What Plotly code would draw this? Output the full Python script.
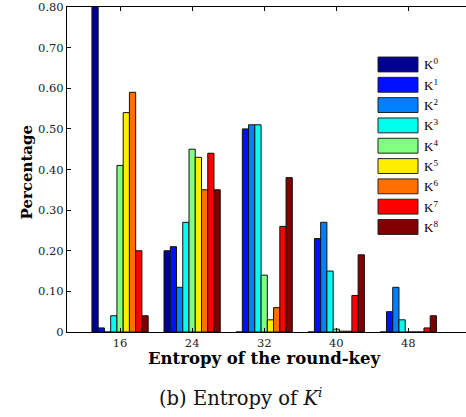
import plotly.graph_objects as go

# ---- data ----
entropy = [16, 24, 32, 40, 48]
tick_text_x = ["16", "24", "32", "40", "48"]
y_tick_vals = [0, 0.1, 0.2, 0.3, 0.4, 0.5, 0.6, 0.7, 0.8]
y_tick_text = ["0", "0.10", "0.20", "0.30", "0.40", "0.50", "0.60", "0.70", "0.80"]

series_names = ["K<sup>0</sup>", "K<sup>1</sup>", "K<sup>2</sup>", "K<sup>3</sup>",
                "K<sup>4</sup>", "K<sup>5</sup>", "K<sup>6</sup>", "K<sup>7</sup>", "K<sup>8</sup>"]
k0 = [0.81, 0.20, 0.0, 0.0, 0.0]
k1 = [0.01, 0.21, 0.50, 0.23, 0.05]
k2 = [0.0, 0.11, 0.51, 0.27, 0.11]
k3 = [0.04, 0.27, 0.51, 0.15, 0.03]
k4 = [0.41, 0.45, 0.14, 0.007, 0.0]
k5 = [0.54, 0.43, 0.03, 0.002, 0.0]
k6 = [0.59, 0.35, 0.06, 0.002, 0.0]
k7 = [0.20, 0.44, 0.26, 0.09, 0.01]
k8 = [0.04, 0.35, 0.38, 0.19, 0.04]
series_values = [k0, k1, k2, k3, k4, k5, k6, k7, k8]
colors = ["#000090", "#0010FF", "#0080FF", "#00FFEE", "#80FF80",
          "#FFEE00", "#FF7000", "#FF0000", "#800000"]

# ---- layout helpers (pixel -> paper) ----
W, H = 466, 417
PL, PR, PT, PB = 67, 466, 4, 332


def px(x):
    return (x - PL) / (PR - PL)


def py(y):
    return (PB - y) / (PB - PT)


fig = go.Figure()
for name, vals, col in zip(series_names, series_values, colors):
    fig.add_trace(go.Bar(x=entropy, y=vals, name=name,
                         marker=dict(color=col, line=dict(color="#111111", width=1)),
                         showlegend=False))

serif = "Liberation Serif"
wide_serif = "DejaVu Serif"

shapes = []
annotations = []
# manual legend
sw_x0, sw_x1 = 378, 418
for i, (name, col) in enumerate(zip(series_names, colors)):
    cy = 62 + i * 20.5
    shapes.append(dict(type="rect", xref="paper", yref="paper",
                       x0=px(sw_x0), x1=px(sw_x1), y0=py(cy + 7.5), y1=py(cy - 7.5),
                       fillcolor=col, line=dict(color="#222222", width=1)))
    annotations.append(dict(xref="paper", yref="paper", x=px(422), y=py(cy),
                            xanchor="left", yanchor="middle", text=name, showarrow=False,
                            font=dict(family=serif, size=13, color="black")))

annotations.append(dict(xref="paper", yref="paper", x=px(27), y=py(171),
                        text="<b>Percentage</b>", textangle=-90, showarrow=False,
                        xanchor="center", yanchor="middle",
                        font=dict(family=wide_serif, size=15, color="black")))
annotations.append(dict(xref="paper", yref="paper", x=px(264), y=py(359),
                        text="<b>Entropy of the round-key</b>", showarrow=False,
                        xanchor="center", yanchor="middle",
                        font=dict(family=wide_serif, size=16.5, color="black")))
annotations.append(dict(xref="paper", yref="paper", x=px(240), y=py(398),
                        text="(b) Entropy of <i>K</i><sup><i>i</i></sup>", showarrow=False,
                        xanchor="center", yanchor="middle",
                        font=dict(family=wide_serif, size=19.5, color="#111111")))

fig.update_layout(
    width=W, height=H,
    margin=dict(l=PL, r=W - PR, t=PT, b=H - PB, pad=0),
    paper_bgcolor="white", plot_bgcolor="white",
    barmode="group", bargap=0.22, bargroupgap=0,
    shapes=shapes, annotations=annotations,
    showlegend=False,
    xaxis=dict(range=[10.11, 54.4], tickvals=entropy, ticktext=tick_text_x,
               ticks="inside", ticklen=4, tickcolor="black",
               showline=True, linecolor="black", linewidth=1, mirror="ticks",
               showgrid=False, zeroline=False, ticklabeloverflow="allow",
               tickfont=dict(family=wide_serif, size=11.5, color="#222222")),
    yaxis=dict(range=[0, 0.8], tickvals=y_tick_vals, ticktext=y_tick_text,
               ticks="inside", ticklen=4, tickcolor="black",
               showline=True, linecolor="black", linewidth=1, mirror=False,
               showgrid=False, zeroline=False, ticklabeloverflow="allow",
               tickfont=dict(family=wide_serif, size=11.5, color="#222222")),
)

fig.write_html("out.html")
